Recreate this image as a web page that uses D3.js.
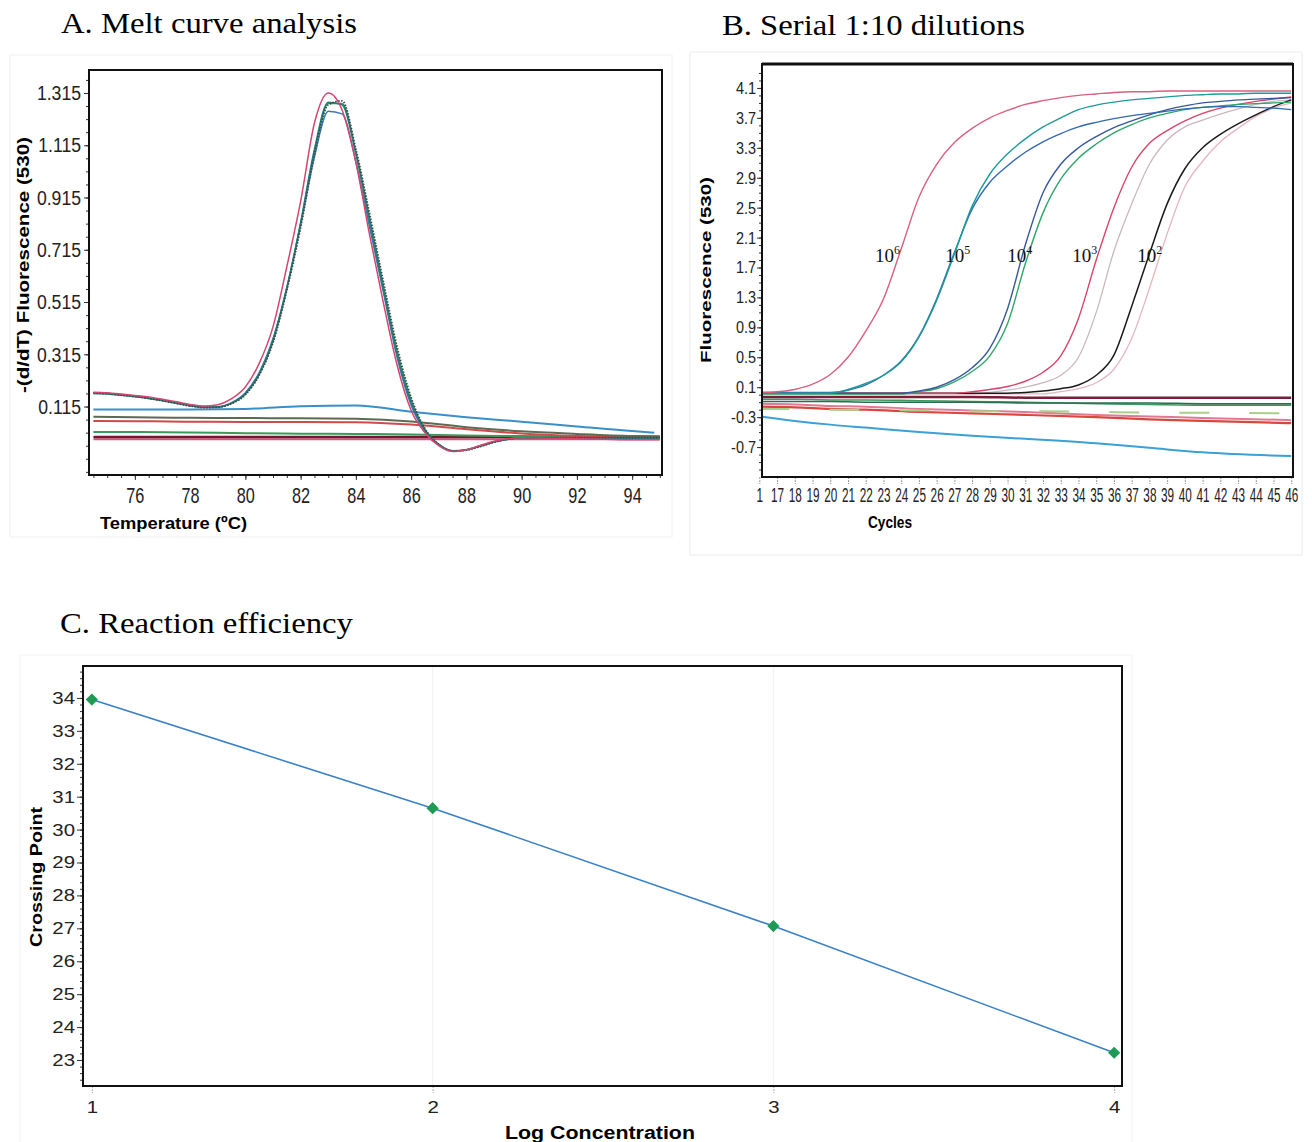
<!DOCTYPE html>
<html>
<head>
<meta charset="utf-8">
<script src="https://cdn.jsdelivr.net/npm/d3@7"></script>
<style>
body { margin: 0; background: #fff; }
svg text { font-family: "Liberation Sans", Arial, sans-serif; }
text.title, text.dil { font-family: "Liberation Serif", "Times New Roman", serif; }
</style>
</head>
<body>
<div id="chart"></div>
<script>
// ---- A. melt curves ----
const meltTemps = [74.5,75,75.5,76,76.5,77,77.5,78,78.5,79,79.5,80,80.5,81,81.5,82,82.5,83,83.5,84,84.5,85,85.5,86,86.5,87,87.5,88,88.5,89,89.5,90,91,92,93,94,95];
const meltPink  = [0.170,0.168,0.163,0.157,0.152,0.143,0.133,0.123,0.117,0.122,0.145,0.190,0.280,0.420,0.650,0.900,1.200,1.315,1.250,1.050,0.770,0.510,0.270,0.100,0.015,-0.035,-0.057,-0.050,-0.034,-0.018,-0.008,-0.004,-0.006,-0.008,-0.010,-0.012,-0.012];
const meltTeal  = [0.165,0.163,0.158,0.152,0.146,0.138,0.128,0.118,0.112,0.113,0.128,0.165,0.240,0.370,0.570,0.820,1.100,1.280,1.270,1.080,0.820,0.560,0.310,0.130,0.025,-0.030,-0.054,-0.050,-0.036,-0.020,-0.009,-0.004,-0.004,-0.004,-0.004,-0.004,-0.004];
const meltBlue  = [0.168,0.166,0.161,0.155,0.148,0.139,0.129,0.119,0.113,0.114,0.130,0.168,0.245,0.375,0.570,0.810,1.070,1.245,1.235,1.050,0.800,0.550,0.300,0.120,0.020,-0.032,-0.055,-0.050,-0.035,-0.020,-0.010,-0.005,-0.005,-0.005,-0.005,-0.005,-0.005];
const meltGreen = [0.167,0.165,0.160,0.154,0.147,0.138,0.128,0.118,0.112,0.113,0.127,0.163,0.238,0.365,0.565,0.815,1.090,1.275,1.275,1.090,0.835,0.575,0.325,0.140,0.028,-0.030,-0.055,-0.051,-0.037,-0.021,-0.010,-0.004,-0.004,-0.004,-0.004,-0.004,-0.004];
const meltDark  = [0.166,0.164,0.159,0.153,0.146,0.137,0.127,0.117,0.111,0.112,0.126,0.160,0.235,0.360,0.560,0.800,1.080,1.270,1.285,1.100,0.850,0.590,0.340,0.150,0.030,-0.030,-0.056,-0.052,-0.038,-0.022,-0.010,-0.004,-0.004,-0.004,-0.004,-0.004,-0.004];

// flat (no-template / negative) traces
const meltBaseTemps = [74.5,76,78,80,82,84,86,88,90,92,94,95];
const meltBlueBaseTemps = [74.5,76,78,80,82,84,86,88,90,92,94,94.8];
const baseBlue   = [0.104,0.104,0.104,0.106,0.116,0.119,0.095,0.074,0.057,0.039,0.021,0.015];
const baseOlive  = [0.076,0.074,0.072,0.071,0.070,0.068,0.058,0.036,0.020,0.010,0.002,0.000];
const baseRed    = [0.060,0.059,0.057,0.056,0.056,0.055,0.046,0.028,0.012,0.002,-0.004,-0.006];
const baseGreen  = [0.018,0.018,0.016,0.013,0.011,0.010,0.008,0.004,0.002,0.000,0.000,0.000];
const baseMaroon = [-0.002,-0.002,-0.002,-0.002,-0.002,-0.002,-0.002,-0.002,-0.002,-0.002,-0.002,-0.002];
const basePink   = [-0.010,-0.010,-0.010,-0.010,-0.010,-0.010,-0.010,-0.010,-0.010,-0.010,-0.010,-0.010];

const meltTicksX = [76,78,80,82,84,86,88,90,92,94];
const meltTicksY = [0.115,0.315,0.515,0.715,0.915,1.115,1.315];

// ---- B. amplification curves ----
const ampCycles = [16,17,18,19,20,21,22,23,24,25,26,27,28,29,30,31,32,33,34,35,36,37,38,39,40,41,42,43,44,45,46];
const amp6  = [0.03,0.04,0.07,0.14,0.27,0.50,0.85,1.28,1.95,2.64,3.08,3.37,3.56,3.70,3.80,3.88,3.93,3.97,4.00,4.02,4.04,4.05,4.05,4.06,4.06,4.06,4.06,4.06,4.06,4.06,4.06];
const amp5a = [0.02,0.02,0.02,0.02,0.02,0.07,0.15,0.26,0.44,0.77,1.26,1.88,2.52,2.95,3.22,3.42,3.58,3.70,3.81,3.87,3.91,3.94,3.96,3.98,4.00,4.01,4.02,4.02,4.03,4.03,4.03];
const amp5b = [0.03,0.03,0.03,0.03,0.03,0.06,0.13,0.26,0.45,0.78,1.28,1.90,2.48,2.84,3.06,3.24,3.38,3.49,3.58,3.64,3.69,3.73,3.76,3.79,3.82,3.84,3.85,3.85,3.84,3.83,3.81];
const amp4a = [0.02,0.02,0.02,0.02,0.02,0.02,0.02,0.02,0.02,0.05,0.10,0.20,0.36,0.62,1.15,2.00,2.70,3.08,3.30,3.45,3.57,3.66,3.74,3.81,3.86,3.90,3.92,3.94,3.95,3.96,3.97];
const amp4b = [0.01,0.01,0.01,0.01,0.01,0.01,0.01,0.01,0.01,0.04,0.08,0.17,0.31,0.52,0.95,1.75,2.43,2.88,3.16,3.35,3.50,3.61,3.70,3.76,3.81,3.84,3.86,3.88,3.89,3.90,3.91];
const amp3a = [0.02,0.02,0.02,0.02,0.02,0.02,0.02,0.02,0.02,0.02,0.02,0.02,0.04,0.07,0.11,0.18,0.30,0.52,1.02,1.80,2.50,3.04,3.36,3.53,3.66,3.76,3.83,3.88,3.92,3.95,3.98];
const amp3b = [0.01,0.01,0.01,0.01,0.01,0.01,0.01,0.01,0.01,0.01,0.01,0.01,0.01,0.03,0.06,0.10,0.16,0.26,0.50,1.10,1.92,2.55,3.08,3.40,3.58,3.67,3.75,3.82,3.88,3.92,3.94];
const amp2a = [0.02,0.02,0.02,0.02,0.02,0.02,0.02,0.02,0.02,0.02,0.02,0.02,0.02,0.02,0.02,0.03,0.05,0.08,0.13,0.26,0.53,1.18,1.88,2.55,3.02,3.30,3.48,3.62,3.74,3.85,3.94];
const amp2b = [0.01,0.01,0.01,0.01,0.01,0.01,0.01,0.01,0.01,0.01,0.01,0.01,0.01,0.01,0.01,0.01,0.01,0.04,0.08,0.16,0.34,0.75,1.42,2.15,2.78,3.12,3.38,3.56,3.72,3.83,3.90];

const negCycles = [16,18,20,22,25,28,31,35,38,41,46];
const negMaroon     = [-0.03,-0.03,-0.03,-0.03,-0.03,-0.03,-0.04,-0.04,-0.04,-0.04,-0.04];
const negDarkGreen  = [-0.09,-0.09,-0.09,-0.10,-0.10,-0.10,-0.11,-0.11,-0.11,-0.12,-0.12];
const negGreen      = [-0.06,-0.06,-0.07,-0.07,-0.08,-0.09,-0.10,-0.12,-0.13,-0.14,-0.14];
const negPink       = [-0.12,-0.13,-0.15,-0.16,-0.19,-0.21,-0.23,-0.27,-0.29,-0.31,-0.34];
const negRed        = [-0.16,-0.17,-0.19,-0.20,-0.23,-0.25,-0.27,-0.30,-0.33,-0.35,-0.38];
const negLightGreen = [-0.19,-0.19,-0.20,-0.20,-0.21,-0.22,-0.22,-0.23,-0.24,-0.24,-0.25];
const negBlue       = [-0.29,-0.35,-0.40,-0.44,-0.50,-0.55,-0.59,-0.65,-0.71,-0.77,-0.82];

const ampTicksY = [4.1,3.7,3.3,2.9,2.5,2.1,1.7,1.3,0.9,0.5,0.1,-0.3,-0.7];
const ampTicksX = [16,17,18,19,20,21,22,23,24,25,26,27,28,29,30,31,32,33,34,35,36,37,38,39,40,41,42,43,44,45,46];
const ampTickLabels = ["1","17","18","19","20","21","22","23","24","25","26","27","28","29","30","31","32","33","34","35","36","37","38","39","40","41","42","43","44","45","46"];

const dilutionExps   = ["6","5","4","3","2"];
const dilutionCycles = [22.53,26.48,29.98,33.65,37.32];
const dilutionLevel  = 1.77;

// ---- C. standard curve ----
const logConc  = [1,2,3,4];
const crossing = [33.95,30.65,27.07,23.22];
const stdTicksY = [23,24,25,26,27,28,29,30,31,32,33,34];


const svg = d3.select('#chart').append('svg')
    .attr('width', 1312)
    .attr('height', 1142);

// squeeze/stretch tick text horizontally like the scanned figure
function squeeze(sel, f){
    sel.each(function(){
        const t = d3.select(this);
        const x = +t.attr('x') || 0;
        t.attr('x', x / f).attr('transform', `scale(${f},1)`);
    });
}

function styleAxis(g, size, f){
    g.select('.domain').remove();
    g.selectAll('.tick line').attr('stroke', '#333');
    g.selectAll('text').attr('font-size', size).attr('fill', '#222');
    if (f) squeeze(g.selectAll('text'), f);
}

function title(x, y, txt, len){
    svg.append('text').attr('class', 'title')
        .attr('x', x).attr('y', y)
        .attr('font-size', 30)
        .attr('textLength', len).attr('lengthAdjust', 'spacingAndGlyphs')
        .text(txt);
}

function clip(id, x0, y0, x1, y1){
    svg.append('clipPath').attr('id', id)
        .append('rect').attr('x', x0).attr('y', y0).attr('width', x1 - x0).attr('height', y1 - y0);
}

// faint panel borders of the scanned figure
svg.append('rect').attr('x', 10).attr('y', 55).attr('width', 662).attr('height', 482)
    .attr('fill', 'none').attr('stroke', '#f0f0f0');
svg.append('rect').attr('x', 690).attr('y', 52).attr('width', 612).attr('height', 503)
    .attr('fill', 'none').attr('stroke', '#ececec');
svg.append('rect').attr('x', 20).attr('y', 655).attr('width', 1112).attr('height', 490)
    .attr('fill', 'none').attr('stroke', '#f3f3f3');

title(61, 33, 'A. Melt curve analysis', 296);
title(722, 35, 'B. Serial 1:10 dilutions', 303);
title(60, 633, 'C. Reaction efficiency', 293);

// ================= Panel A =================
const A = {x0: 89, x1: 662, y0: 70, y1: 475};
const xA = d3.scaleLinear().domain([74.34, 95.08]).range([A.x0, A.x1]);
const yA = d3.scaleLinear().domain([-0.147, 1.403]).range([A.y1, A.y0]);
clip('clipA', A.x0, A.y0, A.x1, A.y1);

const gA = svg.append('g');

gA.append('g').attr('transform', `translate(0,${A.y1})`)
    .call(d3.axisBottom(xA).tickValues(d3.range(74.5, 95.1, 0.5)).tickSize(3).tickFormat(''))
    .call(g => styleAxis(g));
gA.append('g').attr('transform', `translate(0,${A.y1})`)
    .call(d3.axisBottom(xA).tickValues(meltTicksX).tickSize(5).tickPadding(7).tickFormat(d3.format('d')))
    .call(g => styleAxis(g, 22, 0.74));
gA.append('g').attr('transform', `translate(${A.x0},0)`)
    .call(d3.axisLeft(yA).tickValues(d3.range(-0.135, 1.4, 0.05)).tickSize(3).tickFormat(''))
    .call(g => styleAxis(g));
gA.append('g').attr('transform', `translate(${A.x0},0)`)
    .call(d3.axisLeft(yA).tickValues(meltTicksY).tickSize(5).tickPadding(3).tickFormat(d3.format('.3f')))
    .call(g => styleAxis(g, 21, 0.84));

const lineA = (xs) => d3.line()
    .x((d, i) => xA(xs[i]))
    .y(d => yA(d))
    .curve(d3.curveMonotoneX);

const meltSeries = [
    {xs: meltBaseTemps, v: basePink, c: '#e0507a', w: 2},
    {xs: meltBaseTemps, v: baseMaroon, c: '#6e1a30', w: 2.5},
    {xs: meltBaseTemps, v: baseGreen, c: '#3a9a5a', w: 2},
    {xs: meltBaseTemps, v: baseRed, c: '#d14a4a', w: 2},
    {xs: meltBaseTemps, v: baseOlive, c: '#5d6b55', w: 2},
    {xs: meltBlueBaseTemps, v: baseBlue, c: '#3a8fc8', w: 2},
    {xs: meltTemps, v: meltGreen, c: '#2f9a5e', w: 1.5},
    {xs: meltTemps, v: meltBlue, c: '#3a78c0', w: 1.5},
    {xs: meltTemps, v: meltTeal, c: '#1f7f7a', w: 1.5},
    {xs: meltTemps, v: meltDark, c: '#444', w: 1.8, dash: '1.5,1.5'},
    {xs: meltTemps, v: meltPink, c: '#d6456f', w: 1.5}
];

gA.append('g').attr('clip-path', 'url(#clipA)')
    .selectAll('path')
    .data(meltSeries)
    .enter().append('path')
    .attr('d', s => lineA(s.xs)(s.v))
    .attr('fill', 'none')
    .attr('stroke', s => s.c)
    .attr('stroke-width', s => s.w)
    .attr('stroke-dasharray', s => s.dash || null);

gA.append('rect').attr('x', A.x0).attr('y', A.y0)
    .attr('width', A.x1 - A.x0).attr('height', A.y1 - A.y0)
    .attr('fill', 'none').attr('stroke', '#111').attr('stroke-width', 2);

gA.append('text')
    .attr('transform', `translate(29,265) rotate(-90)`)
    .attr('text-anchor', 'middle')
    .attr('font-size', 17).attr('font-weight', 'bold')
    .attr('textLength', 256).attr('lengthAdjust', 'spacingAndGlyphs')
    .text('-(d/dT) Fluorescence (530)');
gA.append('text')
    .attr('x', 100).attr('y', 529)
    .attr('font-size', 17).attr('font-weight', 'bold')
    .attr('textLength', 147).attr('lengthAdjust', 'spacingAndGlyphs')
    .text('Temperature (ºC)');

// ================= Panel B =================
const B = {x0: 762, x1: 1293, y0: 64, y1: 477};
const xB = d3.scaleLinear().domain([16.15, 46.1]).range([B.x0, B.x1]);
const yB = d3.scaleLinear().domain([-1.1, 4.42]).range([B.y1, B.y0]);
clip('clipB', B.x0, B.y0, B.x1, B.y1);

const gB = svg.append('g');

gB.append('g').attr('transform', `translate(0,${B.y1})`)
    .call(d3.axisBottom(xB).tickValues(ampTicksX).tickSize(7).tickPadding(3)
        .tickFormat((d, i) => ampTickLabels[i]))
    .call(g => styleAxis(g, 21, 0.56))
    .call(g => g.selectAll('.tick line').attr('stroke', '#999').attr('stroke-dasharray', '2,1'));
gB.append('g').attr('transform', `translate(${B.x0},0)`)
    .call(d3.axisLeft(yB).tickValues(d3.range(-1.0, 4.4, 0.1)).tickSize(3).tickFormat(''))
    .call(g => styleAxis(g));
gB.append('g').attr('transform', `translate(${B.x0},0)`)
    .call(d3.axisLeft(yB).tickValues(ampTicksY).tickSize(5).tickPadding(1).tickFormat(d => d3.format('.1f')(d).replace('−', '-')))
    .call(g => styleAxis(g, 17, 0.85));

const lineB = (xs) => d3.line()
    .x((d, i) => xB(xs[i]))
    .y(d => yB(d))
    .curve(d3.curveMonotoneX);

const ampSeries = [
    {xs: negCycles, v: negBlue, c: '#3aa0d6', w: 2},
    {xs: negCycles, v: negRed, c: '#d9483f', w: 2.2},
    {xs: negCycles, v: negPink, c: '#e07a92', w: 2},
    {xs: negCycles, v: negLightGreen, c: '#a8d08a', w: 2, dash: '30,40'},
    {xs: negCycles, v: negGreen, c: '#3c9a5c', w: 1.6},
    {xs: negCycles, v: negDarkGreen, c: '#2e6b50', w: 1.6},
    {xs: negCycles, v: negMaroon, c: '#7a1e3a', w: 2.5},
    {xs: ampCycles, v: amp2b, c: '#e6b5c0', w: 1.3},
    {xs: ampCycles, v: amp3b, c: '#c9b8c2', w: 1.3},
    {xs: ampCycles, v: amp2a, c: '#1a1a1a', w: 1.5},
    {xs: ampCycles, v: amp3a, c: '#d8456a', w: 1.4},
    {xs: ampCycles, v: amp4b, c: '#2fa56a', w: 1.4},
    {xs: ampCycles, v: amp4a, c: '#38589c', w: 1.4},
    {xs: ampCycles, v: amp5b, c: '#3468b0', w: 1.4},
    {xs: ampCycles, v: amp5a, c: '#1f9a9a', w: 1.4},
    {xs: ampCycles, v: amp6, c: '#d9607e', w: 1.4}
];

gB.append('g').attr('clip-path', 'url(#clipB)')
    .selectAll('path')
    .data(ampSeries)
    .enter().append('path')
    .attr('d', s => lineB(s.xs)(s.v))
    .attr('fill', 'none')
    .attr('stroke', s => s.c)
    .attr('stroke-width', s => s.w)
    .attr('stroke-dasharray', s => s.dash || null);

const dil = gB.selectAll('text.dil')
    .data(dilutionExps)
    .enter().append('text')
    .attr('class', 'dil')
    .attr('x', (d, i) => xB(dilutionCycles[i]))
    .attr('y', yB(dilutionLevel))
    .attr('font-size', 19)
    .attr('fill', '#111');
dil.append('tspan').text('10');
dil.append('tspan').attr('dy', -8).attr('font-size', 12).text(d => d);

gB.append('rect').attr('x', B.x0).attr('y', B.y0)
    .attr('width', B.x1 - B.x0).attr('height', B.y1 - B.y0)
    .attr('fill', 'none').attr('stroke', '#111').attr('stroke-width', 2);
gB.append('line').attr('x1', B.x0).attr('x2', B.x1).attr('y1', B.y0).attr('y2', B.y0)
    .attr('stroke', '#111').attr('stroke-width', 3);

gB.append('text')
    .attr('transform', `translate(711,270) rotate(-90)`)
    .attr('text-anchor', 'middle')
    .attr('font-size', 14).attr('font-weight', 'bold')
    .attr('textLength', 186).attr('lengthAdjust', 'spacingAndGlyphs')
    .text('Fluorescence (530)');
gB.append('text')
    .attr('x', 890).attr('y', 528)
    .attr('text-anchor', 'middle')
    .attr('font-size', 16).attr('font-weight', 'bold')
    .attr('textLength', 44).attr('lengthAdjust', 'spacingAndGlyphs')
    .text('Cycles');

// ================= Panel C =================
const C = {x0: 83, x1: 1122, y0: 666, y1: 1086};
const xC = d3.scaleLinear().domain([0.974, 4.023]).range([C.x0, C.x1]);
const yC = d3.scaleLinear().domain([22.21, 34.97]).range([C.y1, C.y0]);

const gC = svg.append('g');

gC.selectAll('line.grid')
    .data([2, 3])
    .enter().append('line')
    .attr('x1', d => xC(d)).attr('x2', d => xC(d))
    .attr('y1', C.y0).attr('y2', C.y1)
    .attr('stroke', '#f2f2f2');

gC.append('g').attr('transform', `translate(0,${C.y1})`)
    .call(d3.axisBottom(xC).tickValues(logConc).tickSize(7).tickPadding(8).tickFormat(d3.format('d')))
    .call(g => styleAxis(g, 17, 1.2))
    .call(g => g.selectAll('.tick line').attr('stroke', '#aaa').attr('stroke-dasharray', '2,1'));
gC.append('g').attr('transform', `translate(${C.x0},0)`)
    .call(d3.axisLeft(yC).tickValues(d3.range(22.4, 34.9, 0.2)).tickSize(3).tickFormat(''))
    .call(g => styleAxis(g));
gC.append('g').attr('transform', `translate(${C.x0},0)`)
    .call(d3.axisLeft(yC).tickValues(stdTicksY).tickSize(6).tickPadding(2).tickFormat(d3.format('d')))
    .call(g => styleAxis(g, 17, 1.2));

gC.append('path')
    .datum(logConc)
    .attr('d', d3.line().x(d => xC(d)).y((d, i) => yC(crossing[i])))
    .attr('fill', 'none')
    .attr('stroke', '#3a80c8')
    .attr('stroke-width', 1.6);

gC.selectAll('path.pt')
    .data(logConc)
    .enter().append('path')
    .attr('class', 'pt')
    .attr('d', d3.symbol().type(d3.symbolDiamond2).size(95))
    .attr('transform', (d, i) => `translate(${xC(d)},${yC(crossing[i])})`)
    .attr('fill', '#1f9a55');

gC.append('rect').attr('x', C.x0).attr('y', C.y0)
    .attr('width', C.x1 - C.x0).attr('height', C.y1 - C.y0)
    .attr('fill', 'none').attr('stroke', '#111').attr('stroke-width', 2);

gC.append('text')
    .attr('transform', `translate(42,877) rotate(-90)`)
    .attr('text-anchor', 'middle')
    .attr('font-size', 17).attr('font-weight', 'bold')
    .attr('textLength', 140).attr('lengthAdjust', 'spacingAndGlyphs')
    .text('Crossing Point');
gC.append('text')
    .attr('x', 600).attr('y', 1139)
    .attr('text-anchor', 'middle')
    .attr('font-size', 18).attr('font-weight', 'bold')
    .attr('textLength', 190).attr('lengthAdjust', 'spacingAndGlyphs')
    .text('Log Concentration');
</script>
</body>
</html>
